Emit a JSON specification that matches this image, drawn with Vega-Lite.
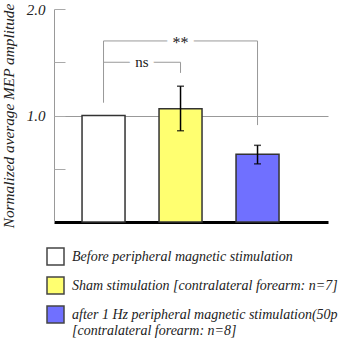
{
  "$schema": "https://vega.github.io/schema/vega-lite/v6.json",
  "width": 274,
  "height": 213,
  "autosize": {"type": "none"},
  "padding": {"left": 54, "top": 9, "right": 15, "bottom": 116},
  "background": "white",
  "config": {"view": {"stroke": null}, "font": "Liberation Serif"},
  "datasets": {
    "bars": [
      {"group": "Before", "value": 1.0},
      {"group": "Sham", "value": 1.063},
      {"group": "After", "value": 0.636}
    ],
    "errors": [
      {"group": "Sham", "lo": 0.857, "hi": 1.275},
      {"group": "After", "lo": 0.546, "hi": 0.72}
    ],
    "hbrackets": [
      {"a": "Before", "b": "After", "y": 1.70},
      {"a": "Before", "b": "Sham", "y": 1.50}
    ],
    "vbrackets": [
      {"a": "Before", "y": 1.12, "y2": 1.70},
      {"a": "Sham", "y": 1.40, "y2": 1.50},
      {"a": "After", "y": 0.91, "y2": 1.70}
    ],
    "ns": [{"x": "Before", "y": 1.50, "t": "ns"}],
    "stars": [{"x": "Sham", "y": 1.68, "t": "**"}]
  },
  "layer": [
    {
      "data": {"name": "bars"},
      "mark": {"type": "bar", "stroke": "#333", "strokeWidth": 1.5},
      "encoding": {
        "x": {
          "field": "group", "type": "nominal",
          "scale": {"domain": ["Before", "Sham", "After"], "paddingInner": 0.4416, "paddingOuter": 0.5, "align": 0.364},
          "axis": {"title": null, "labels": false, "ticks": false, "domainColor": "black", "domainWidth": 3}
        },
        "y": {
          "field": "value", "type": "quantitative",
          "scale": {"domain": [0, 2]},
          "axis": {
            "title": "Normalized average MEP amplitude",
            "values": [1, 2], "format": ".1f", "ticks": false, "grid": false,
            "domainColor": "#999", "labelPadding": 9,
            "labelFont": "Liberation Serif", "labelFontStyle": "italic", "labelFontSize": 15, "labelColor": "#222",
            "titleFont": "Liberation Serif", "titleFontStyle": "italic", "titleFontWeight": "normal", "titleFontSize": 15.3, "titleColor": "#222", "titlePadding": 10
          }
        },
        "color": {
          "field": "group", "type": "nominal",
          "scale": {"domain": ["Before", "Sham", "After"], "range": ["#ffffff", "#ffff70", "#7070ff"]},
          "legend": {
            "orient": "none", "legendX": -8, "legendY": 238, "title": null, "padding": 0,
            "gridAlign": "none",
            "symbolType": "square", "symbolSize": 289, "symbolStrokeColor": "#444", "symbolStrokeWidth": 1.5,
            "labelFont": "Liberation Serif", "labelFontStyle": "italic", "labelFontSize": 14, "labelColor": "#222",
            "labelOffset": 7, "rowPadding": 6, "labelLimit": 400,
            "labelExpr": "datum.label === 'Before' ? 'Before peripheral magnetic stimulation' : datum.label === 'Sham' ? 'Sham stimulation  [contralateral forearm: n=7]' : ['after 1 Hz peripheral magnetic stimulation(50p', '[contralateral forearm: n=8]']"
          }
        }
      }
    },
    {
      "data": {"name": "errors"},
      "mark": {"type": "rule", "color": "black", "strokeWidth": 1.5},
      "encoding": {
        "x": {"field": "group", "type": "nominal"},
        "y": {
          "field": "lo", "type": "quantitative",
          "axis": {
            "orient": "right", "offset": -274, "values": [0.5, 1, 1.5, 2],
            "labels": false, "domain": false, "title": null,
            "tickSize": 11, "tickColor": "#aaa", "grid": true, "gridColor": "#999",
            "gridOpacity": {"condition": {"test": "datum.value === 1", "value": 1}, "value": 0}
          }
        },
        "y2": {"field": "hi"}
      }
    },
    {
      "data": {"name": "errors"},
      "mark": {"type": "tick", "orient": "horizontal", "color": "black", "size": 7, "thickness": 1.5},
      "encoding": {
        "x": {"field": "group", "type": "nominal"},
        "y": {"field": "lo", "type": "quantitative", "axis": null}
      }
    },
    {
      "data": {"name": "errors"},
      "mark": {"type": "tick", "orient": "horizontal", "color": "black", "size": 7, "thickness": 1.5},
      "encoding": {
        "x": {"field": "group", "type": "nominal"},
        "y": {"field": "hi", "type": "quantitative", "axis": null}
      }
    },
    {
      "data": {"name": "hbrackets"},
      "mark": {"type": "rule", "color": "#999", "strokeWidth": 1},
      "encoding": {
        "x": {"field": "a", "type": "nominal"},
        "x2": {"field": "b"},
        "y": {"field": "y", "type": "quantitative", "axis": null}
      }
    },
    {
      "data": {"name": "vbrackets"},
      "mark": {"type": "rule", "color": "#999", "strokeWidth": 1},
      "encoding": {
        "x": {"field": "a", "type": "nominal"},
        "y": {"field": "y", "type": "quantitative", "axis": null},
        "y2": {"field": "y2"}
      }
    },
    {
      "data": {"name": "ns"},
      "mark": {"type": "text", "font": "Liberation Serif", "fontSize": 15, "fill": "white", "stroke": "white", "strokeWidth": 12, "strokeJoin": "round", "baseline": "middle"},
      "encoding": {
        "x": {"field": "x", "type": "nominal", "bandPosition": 1.395},
        "y": {"field": "y", "type": "quantitative", "axis": null},
        "text": {"field": "t"}
      }
    },
    {
      "data": {"name": "ns"},
      "mark": {"type": "text", "font": "Liberation Serif", "fontSize": 15, "fill": "#222", "baseline": "middle"},
      "encoding": {
        "x": {"field": "x", "type": "nominal", "bandPosition": 1.395},
        "y": {"field": "y", "type": "quantitative", "axis": null},
        "text": {"field": "t"}
      }
    },
    {
      "data": {"name": "stars"},
      "mark": {"type": "text", "font": "Liberation Serif", "fontSize": 16, "fill": "white", "stroke": "white", "strokeWidth": 12, "strokeJoin": "round", "baseline": "middle"},
      "encoding": {
        "x": {"field": "x", "type": "nominal"},
        "y": {"field": "y", "type": "quantitative", "axis": null},
        "text": {"field": "t"}
      }
    },
    {
      "data": {"name": "stars"},
      "mark": {"type": "text", "font": "Liberation Serif", "fontSize": 16, "fill": "#222", "baseline": "middle"},
      "encoding": {
        "x": {"field": "x", "type": "nominal"},
        "y": {"field": "y", "type": "quantitative", "axis": null},
        "text": {"field": "t"}
      }
    }
  ],
  "resolve": {"axis": {"y": "independent"}}
}
